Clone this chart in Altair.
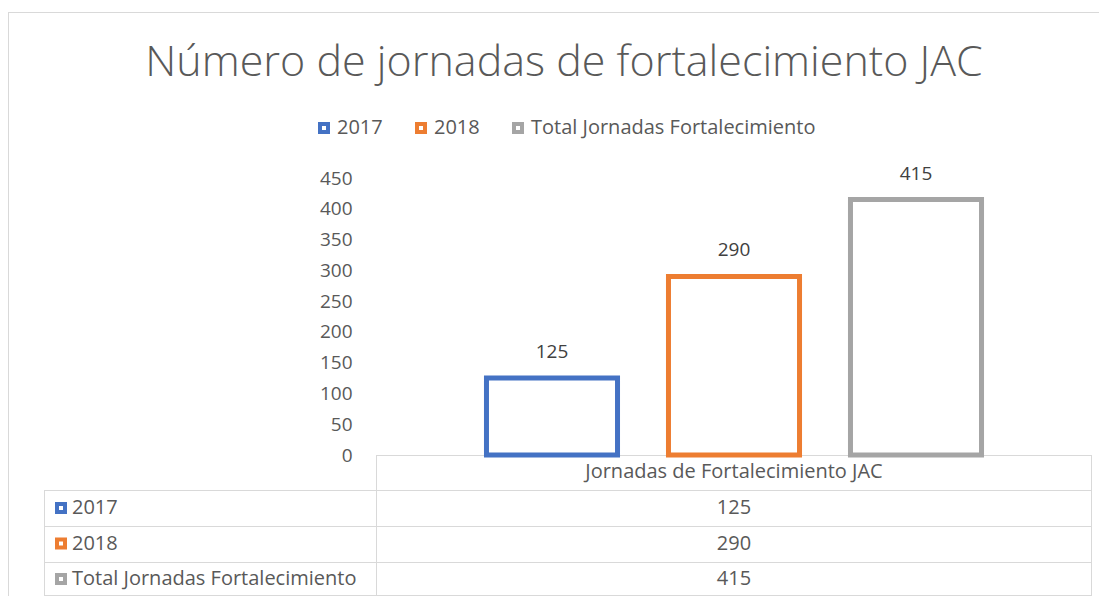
import altair as alt
import pandas as pd

# ---- data ----
title_text = "Número de jornadas de fortalecimiento JAC"
category = "Jornadas de Fortalecimiento JAC"
series = ["2017", "2018", "Total Jornadas Fortalecimiento"]
values = [125, 290, 415]
colors = ["#4472C4", "#ED7D31", "#A5A5A5"]
y_ticks = [0, 50, 100, 150, 200, 250, 300, 350, 400, 450]

df = pd.DataFrame({"series": series, "value": values, "category": [category] * 3})

FONT = "Open Sans"
FS = 20
W, H = 716, 277
GRID = "#D9D9D9"
TXT = "#595959"

color_scale = alt.Scale(domain=series, range=colors)
y_scale = alt.Scale(domain=[0, 450], nice=False)
y_axis = alt.Axis(values=y_ticks, grid=False, domain=False, ticks=False,
                  labelPadding=24, labelFontSize=FS - 1, labelColor=TXT,
                  labelFont=FONT, labelOverlap=False, title=None)
base = alt.Chart(df)

bars = base.mark_bar(fill="white", strokeWidth=5).encode(
    x=alt.X("series:N", sort=series,
            scale=alt.Scale(paddingInner=0.28, paddingOuter=0.607), axis=None),
    y=alt.Y("value:Q", scale=y_scale, axis=y_axis),
    stroke=alt.Stroke("series:N", scale=color_scale, sort=series,
                      legend=alt.Legend(title=None, orient="none", legendX=-62, legendY=-60,
                                        direction="horizontal", symbolType="square",
                                        symbolSize=64, symbolStrokeWidth=4,
                                        symbolFillColor="white", labelFontSize=FS,
                                        labelColor=TXT, labelFont=FONT, labelLimit=500,
                                        columnPadding=26, labelOffset=3)),
)

labels = base.mark_text(dy=-26, baseline="middle", fontSize=FS - 1, font=FONT,
                        color="#404040").encode(
    x=alt.X("series:N", sort=series),
    y=alt.Y("value:Q", scale=y_scale, axis=y_axis),
    text=alt.Text("value:Q"),
)

plot = alt.layer(bars, labels)

one = alt.Data(values=[{"a": 1}])


def hrule(y, x1, x2):
    return alt.Chart(one).mark_rule(color=GRID, strokeWidth=1).encode(
        x=alt.value(x1), x2=alt.value(x2), y=alt.value(y))


def vrule(x, y1, y2):
    return alt.Chart(one).mark_rule(color=GRID, strokeWidth=1).encode(
        x=alt.value(x), y=alt.value(y1), y2=alt.value(y2))


row_lines = [277, 312, 348, 384, 417]
table_rules = [hrule(277.5, 0, W)] + [hrule(y + 0.5, -332, W) for y in row_lines[1:]]
table_rules += [vrule(-331.5, 312, 417.5), vrule(0.5, 277, 417.5), vrule(W - 0.5, 277, 417.5)]

# outer chart border
border = [hrule(-165.5, -368, W + 8), vrule(-367.5, -166, 430)]

title = alt.Chart(alt.Data(values=[{"t": title_text}])).mark_text(
    fontSize=43, font=FONT, fontWeight=300, color=TXT, align="center",
    baseline="alphabetic").encode(x=alt.value(188), y=alt.value(-102), text="t:N")

header = base.mark_text(fontSize=FS, font=FONT, color=TXT, baseline="middle").encode(
    x=alt.value(W / 2), y=alt.value(294), text="category:N"
).transform_filter(alt.datum.series == series[0])

row_y = alt.Y("series:N", sort=series,
              scale=alt.Scale(type="point", domain=series, range=[330, 401], padding=0),
              axis=None)

row_names = base.mark_text(fontSize=FS, font=FONT, color=TXT, align="left",
                           baseline="middle").encode(
    x=alt.value(-304), y=row_y, text="series:N")

row_syms = base.mark_square(size=64, strokeWidth=4, fill="white", opacity=1).encode(
    x=alt.value(-315), y=row_y,
    stroke=alt.Stroke("series:N", scale=color_scale, sort=series, legend=None))

row_vals = base.mark_text(fontSize=FS, font=FONT, color=TXT, baseline="middle").encode(
    x=alt.value(W / 2), y=row_y, text="value:Q")

table = alt.layer(row_names, row_syms, row_vals, header)

chart = alt.layer(
    *border, *table_rules, title, plot, table
).resolve_scale(y="independent").properties(
    width=W, height=H,
    autosize=alt.AutoSizeParams(type="none"),
    padding={"left": 368, "top": 170, "right": 7, "bottom": 141},
).configure_view(stroke=None)

chart.save("out.html", embed_options={"renderer": "svg", "actions": False})
